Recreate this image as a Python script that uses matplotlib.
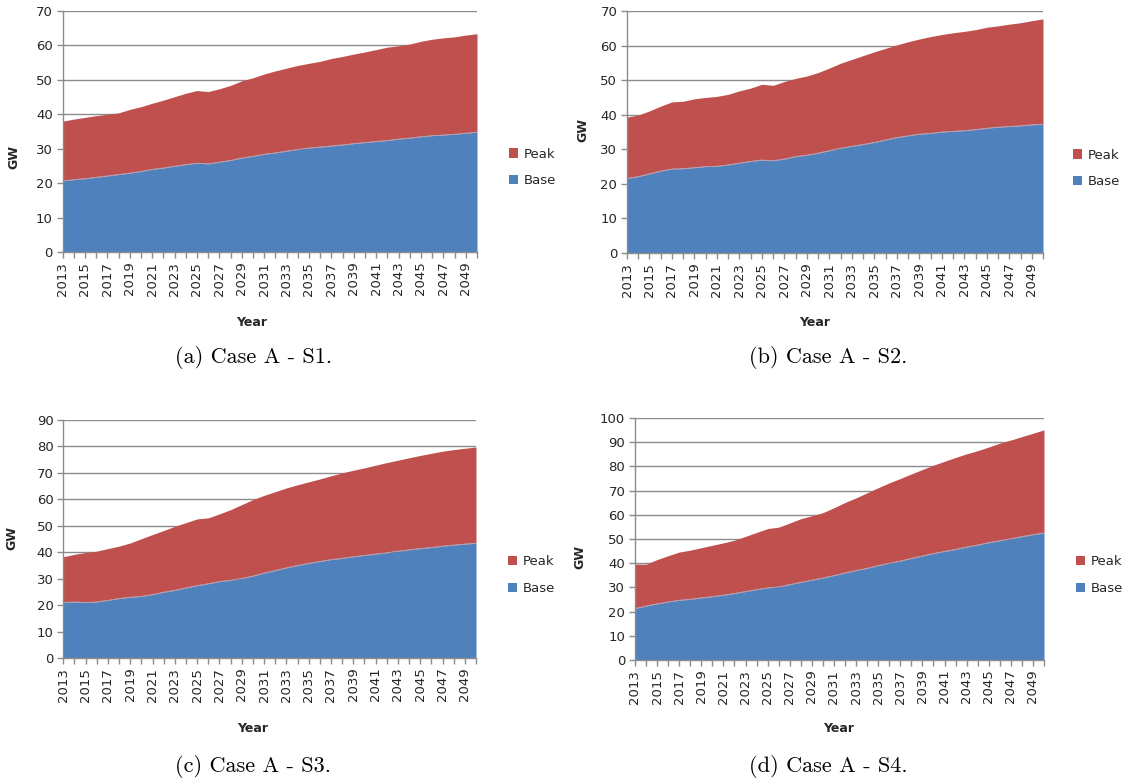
import numpy as np
import matplotlib
matplotlib.use('Agg')
import matplotlib.pyplot as plt

years = np.arange(2013, 2051)
year_labels = [str(y) if (y - 2013) % 2 == 0 else '' for y in years]

a_base = [20.7, 21.0, 21.3, 21.7, 22.1, 22.5, 22.9, 23.4, 24.0, 24.4, 24.9, 25.4, 25.8, 25.6, 26.1, 26.6, 27.3, 27.8, 28.4,
          28.8, 29.3, 29.8, 30.2, 30.5, 30.8, 31.1, 31.5, 31.8, 32.1, 32.4, 32.8, 33.1, 33.5, 33.8, 34.0, 34.2, 34.5, 34.8]
a_total = [38.0, 38.6, 39.1, 39.6, 40.0, 40.4, 41.4, 42.2, 43.2, 44.1, 45.1, 46.1, 46.9, 46.6, 47.4, 48.4, 49.7, 50.6, 51.7,
           52.6, 53.4, 54.2, 54.8, 55.4, 56.2, 56.8, 57.5, 58.1, 58.8, 59.5, 59.9, 60.4, 61.2, 61.8, 62.2, 62.5, 63.0, 63.4]

b_base = [21.6, 22.1, 22.9, 23.7, 24.3, 24.4, 24.7, 25.0, 25.1, 25.5, 26.0, 26.5, 26.9, 26.7, 27.2, 27.9, 28.3, 28.9, 29.6,
          30.3, 30.9, 31.4, 32.0, 32.7, 33.4, 33.9, 34.4, 34.6, 35.0, 35.2, 35.4, 35.7, 36.1, 36.4, 36.6, 36.8, 37.1, 37.2]
b_total = [39.3, 39.9, 41.1, 42.5, 43.7, 43.9, 44.6, 45.0, 45.3, 45.9, 46.9, 47.7, 48.8, 48.5, 49.6, 50.5, 51.2, 52.2, 53.5,
           54.9, 56.0, 57.1, 58.2, 59.2, 60.2, 61.1, 61.9, 62.6, 63.2, 63.7, 64.1, 64.6, 65.3, 65.7, 66.2, 66.6, 67.2, 67.7]

c_base = [21.0, 21.2, 21.0, 21.2, 21.8, 22.5, 23.0, 23.3, 24.0, 24.9, 25.6, 26.5, 27.4, 28.1, 28.9, 29.4, 30.1, 31.0, 32.1,
          33.1, 34.1, 35.0, 35.8, 36.5, 37.2, 37.7, 38.3, 38.8, 39.3, 39.8, 40.4, 40.9, 41.4, 41.8, 42.3, 42.7, 43.1, 43.4]
c_total = [38.3, 39.2, 39.9, 40.4, 41.4, 42.3, 43.5, 45.1, 46.7, 48.2, 49.8, 51.2, 52.6, 53.0, 54.5, 56.1, 58.0, 59.9, 61.5,
           62.9, 64.3, 65.5, 66.6, 67.7, 68.9, 70.0, 71.0, 71.9, 72.9, 73.9, 74.8, 75.7, 76.6, 77.4, 78.2, 78.8, 79.3, 79.8]

d_base = [21.3, 22.3, 23.2, 24.0, 24.7, 25.1, 25.7, 26.2, 26.8, 27.5, 28.3, 29.1, 29.8, 30.2, 31.2, 32.1, 33.0, 33.9, 34.9,
          36.0, 37.0, 37.9, 39.0, 40.0, 40.9, 42.0, 43.0, 44.0, 44.9, 45.7, 46.7, 47.5, 48.5, 49.3, 50.1, 51.0, 51.8, 52.5]
d_total = [39.6, 39.6, 41.5, 43.1, 44.6, 45.4, 46.4, 47.4, 48.4, 49.5, 51.1, 52.7, 54.3, 54.9, 56.6, 58.4, 59.6, 60.9, 62.9,
           65.1, 67.0, 69.1, 71.2, 73.2, 75.0, 76.9, 78.7, 80.5, 82.1, 83.7, 85.2, 86.5, 88.0, 89.6, 90.9, 92.3, 93.7, 95.1]

captions = ['(a) Case A - S1.', '(b) Case A - S2.', '(c) Case A - S3.', '(d) Case A - S4.']
y_max = [70, 70, 90, 100]

BLUE = '#4F81BD'
RED = '#C0504D'
GRID = '#8C8C8C'
TXT = '#262626'

W, H = 1124, 783
fig = plt.figure(figsize=(W / 100, H / 100), dpi=100)


def px(x, y):
    return x / W, 1 - y / H


# axes box in pixels: left, right, top, bottom
boxes = [(62.5, 477, 11, 252), (627, 1043, 11, 253), (63.3, 476, 420, 658), (635, 1044, 418, 660)]
gw_pos = [(14, 157), (583, 130), (12, 538), (580, 557)]
year_pos = [(252, 322), (815, 322), (253, 728), (839, 728)]
cap_pos = [(254, 357), (828, 357), (253, 767), (828, 767)]
leg_pos = [(502, 167.5), (1066, 168.5), (501, 575), (1069, 575)]

series = [(a_base, a_total), (b_base, b_total), (c_base, c_total), (d_base, d_total)]

for i, (base, total) in enumerate(series):
    l, r, t, b = boxes[i]
    ax = fig.add_axes([l / W, 1 - b / H, (r - l) / W, (b - t) / H])
    ax.fill_between(years, 0, base, color=BLUE, lw=0, label='Base', zorder=2)
    ax.fill_between(years, base, total, color=RED, lw=0, label='Peak', zorder=2)
    ax.plot(years, base, color='#A9BEDC', lw=0.5, zorder=3)
    ax.set_xlim(2013, 2050)
    ax.set_ylim(0, y_max[i])
    ax.set_yticks(np.arange(0, y_max[i] + 1, 10))
    ax.yaxis.grid(True, color=GRID, lw=1, zorder=1)
    ax.set_axisbelow(True)
    ax.set_xticks(years)
    ax.set_xticklabels(year_labels, rotation=90)
    for s in ['top', 'right']:
        ax.spines[s].set_visible(False)
    for s in ['left', 'bottom']:
        ax.spines[s].set_color(GRID)
        ax.spines[s].set_linewidth(1)
        ax.spines[s].set_zorder(4)
    ax.tick_params(axis='both', colors=GRID, labelcolor=TXT, labelsize=9.5, length=4, width=1, direction='out')
    ax.tick_params(axis='x', pad=3)
    ax.tick_params(axis='y', pad=3)

    h, lab = ax.get_legend_handles_labels()
    ax.legend(h[::-1], lab[::-1], loc='center left', bbox_to_anchor=px(*leg_pos[i]),
              bbox_transform=fig.transFigure, frameon=False, fontsize=9.5, handlelength=0.7,
              handleheight=0.7, handletextpad=0.45, labelspacing=1.05, borderpad=0, labelcolor=TXT)

    fig.text(*px(*gw_pos[i]), 'GW', rotation=90, ha='center', va='center', fontsize=9, fontweight='bold', color=TXT)
    fig.text(*px(*year_pos[i]), 'Year', ha='center', va='center', fontsize=9, fontweight='bold', color=TXT)
    fig.text(*px(*cap_pos[i]), captions[i], ha='center', va='center', fontsize=16, family='cmr10', color='black')

fig.savefig('out.png', dpi=100)
